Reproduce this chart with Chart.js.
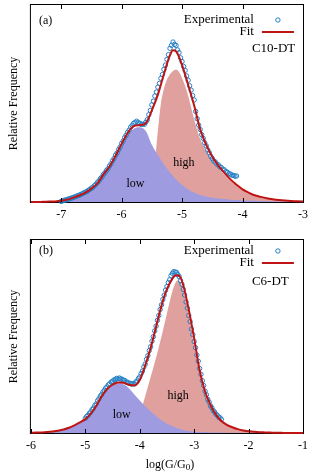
<!DOCTYPE html>
<html>
<head>
<meta charset="utf-8">
<script src="https://cdn.jsdelivr.net/npm/chart.js@4"></script>
<style>
  html, body { margin: 0; padding: 0; background: #fff; }
  .panel { position: absolute; left: 0; width: 314px; }
  #wrapA { top: 0; height: 232px; }
  #wrapB { top: 232px; height: 241px; }
</style>
</head>
<body>
<div class="panel" id="wrapA"><canvas id="chartA"></canvas></div>
<div class="panel" id="wrapB"><canvas id="chartB"></canvas></div>
<script>
// ---------- panel (a): C10-DT ----------
const xTicksA = [-7, -6, -5, -4, -3];
const curveXA = [-7.5, -7.4, -7.3, -7.2, -7.1, -7.0, -6.9, -6.8, -6.7, -6.6, -6.5, -6.4, -6.3, -6.2, -6.1, -6.0,
  -5.9, -5.8, -5.7, -5.6, -5.5, -5.4, -5.3, -5.2, -5.15, -5.1, -5.0, -4.9, -4.8, -4.7, -4.6, -4.5, -4.4, -4.3,
  -4.2, -4.1, -4.0, -3.9, -3.8, -3.7, -3.6, -3.5, -3.4, -3.3, -3.2, -3.1, -3.0];
const fitA = [0, 0, 0.001, 0.002, 0.003, 0.006, 0.012, 0.022, 0.033, 0.047, 0.068, 0.095, 0.14, 0.18, 0.235, 0.295,
  0.35, 0.385, 0.39, 0.40, 0.465, 0.545, 0.65, 0.745, 0.77, 0.765, 0.695, 0.595, 0.49, 0.368, 0.29, 0.23, 0.185, 0.148,
  0.115, 0.088, 0.064, 0.048, 0.034, 0.026, 0.019, 0.014, 0.01, 0.007, 0.005, 0.004, 0.003];
const lowA = [0, 0, 0.001, 0.002, 0.003, 0.006, 0.012, 0.022, 0.033, 0.047, 0.068, 0.095, 0.138, 0.177, 0.23, 0.288,
  0.34, 0.372, 0.38, 0.36, 0.29, 0.238, 0.19, 0.15, 0.132, 0.115, 0.087, 0.064, 0.048, 0.035, 0.028, 0.022, 0.018, 0.015,
  0.012, 0.01, 0.008, 0.007, 0.006, 0.005, 0.004, 0.003, 0.003, 0.002, 0.002, 0.001, 0.001];
const highXA = [-5.43, -5.4, -5.35, -5.3, -5.25, -5.2, -5.15, -5.1, -5.05, -5.0, -4.95, -4.9, -4.85, -4.8, -4.75, -4.7,
  -4.6, -4.5, -4.4, -4.3, -4.2, -4.1, -4.0, -3.9, -3.8, -3.7, -3.6, -3.5, -3.4, -3.3, -3.2, -3.1, -3.0];
const highA = [0.265, 0.36, 0.5, 0.575, 0.62, 0.648, 0.665, 0.672, 0.66, 0.63, 0.59, 0.54, 0.48, 0.42, 0.365, 0.32,
  0.26, 0.21, 0.17, 0.138, 0.108, 0.083, 0.062, 0.046, 0.034, 0.026, 0.019, 0.014, 0.01, 0.007, 0.005, 0.004, 0.003];
const expXA = [
  -7.0, -6.975, -6.95, -6.925, -6.9, -6.875, -6.85, -6.825,
  -6.8, -6.775, -6.75, -6.725, -6.7, -6.675, -6.65, -6.625,
  -6.6, -6.575, -6.55, -6.525, -6.5, -6.475, -6.45, -6.425,
  -6.4, -6.375, -6.35, -6.325, -6.3, -6.275, -6.25, -6.225,
  -6.2, -6.175, -6.15, -6.125, -6.1, -6.075, -6.05, -6.025,
  -6.0, -5.975, -5.95, -5.925, -5.9, -5.875, -5.85, -5.825,
  -5.8, -5.775, -5.75, -5.725, -5.7, -5.675, -5.65, -5.625,
  -5.6, -5.575, -5.55, -5.525, -5.5, -5.475, -5.45, -5.425,
  -5.4, -5.375, -5.35, -5.325, -5.3, -5.275, -5.25, -5.225,
  -5.2, -5.175, -5.15, -5.125, -5.1, -5.075, -5.05, -5.025,
  -5.0, -4.975, -4.95, -4.925, -4.9, -4.875, -4.85, -4.825,
  -4.8, -4.775, -4.75, -4.725, -4.7, -4.675, -4.65, -4.625,
  -4.6, -4.575, -4.55, -4.525, -4.5, -4.475, -4.45, -4.425,
  -4.4, -4.375, -4.35, -4.325, -4.3, -4.275, -4.25, -4.225,
  -4.2, -4.175, -4.15, -4.125, -4.1];
const expA = [
  0.003, 0.006, 0.009, 0.01, 0.013, 0.015, 0.018, 0.02,
  0.023, 0.026, 0.029, 0.032, 0.035, 0.038, 0.042, 0.046,
  0.05, 0.053, 0.059, 0.064, 0.07, 0.075, 0.083, 0.09,
  0.099, 0.107, 0.119, 0.127, 0.14, 0.148, 0.16, 0.169,
  0.183, 0.194, 0.209, 0.221, 0.238, 0.249, 0.266, 0.279,
  0.297, 0.309, 0.327, 0.339, 0.354, 0.365, 0.38, 0.389,
  0.4, 0.404, 0.41, 0.402, 0.4, 0.394, 0.395, 0.394,
  0.405, 0.418, 0.443, 0.465, 0.493, 0.512, 0.538, 0.558,
  0.583, 0.602, 0.628, 0.647, 0.673, 0.695, 0.724, 0.748,
  0.78, 0.795, 0.812, 0.8, 0.795, 0.772, 0.758, 0.732,
  0.713, 0.688, 0.668, 0.64, 0.618, 0.59, 0.568, 0.54,
  0.518, 0.46, 0.423, 0.39, 0.368, 0.342, 0.323, 0.3,
  0.285, 0.264, 0.25, 0.232, 0.221, 0.208, 0.203, 0.192,
  0.188, 0.178, 0.175, 0.166, 0.163, 0.154, 0.151, 0.144,
  0.142, 0.136, 0.135, 0.131, 0.132];

// ---------- panel (b): C6-DT ----------
const xTicksB = [-6, -5, -4, -3, -2, -1];
const curveXB = [-6.0, -5.9, -5.8, -5.7, -5.6, -5.5, -5.4, -5.3, -5.2, -5.1, -5.0, -4.9, -4.8, -4.7, -4.6, -4.5, -4.4,
  -4.3, -4.2, -4.1, -4.0, -3.9, -3.8, -3.7, -3.6, -3.5, -3.4, -3.35, -3.3, -3.25, -3.2, -3.1, -3.0, -2.9, -2.8, -2.7,
  -2.6, -2.5, -2.4, -2.3, -2.2, -2.1, -2.0, -1.9, -1.8, -1.7, -1.6, -1.5, -1.4, -1.3, -1.2, -1.1, -1.0];
const fitB = [0.001, 0.002, 0.003, 0.005, 0.008, 0.012, 0.018, 0.027, 0.04, 0.055, 0.072, 0.1, 0.14, 0.19, 0.228, 0.25, 0.262,
  0.26, 0.25, 0.246, 0.275, 0.35, 0.44, 0.55, 0.66, 0.745, 0.8, 0.815, 0.818, 0.805, 0.765, 0.64, 0.49, 0.325, 0.215, 0.145,
  0.095, 0.062, 0.042, 0.03, 0.02, 0.013, 0.009, 0.006, 0.004, 0.003, 0.002, 0.001, 0.001, 0, 0, 0, 0];
const lowB = [0.001, 0.002, 0.003, 0.005, 0.008, 0.012, 0.018, 0.027, 0.04, 0.055, 0.072, 0.1, 0.14, 0.188, 0.225, 0.246, 0.256,
  0.252, 0.232, 0.2, 0.168, 0.138, 0.112, 0.088, 0.066, 0.048, 0.035, 0.03, 0.025, 0.02, 0.016, 0.01, 0.007, 0.005, 0.004, 0.003,
  0.002, 0.002, 0.001, 0.001, 0.001, 0, 0, 0, 0, 0, 0, 0, 0, 0, 0, 0, 0];
const highXB = [-3.94, -3.9, -3.8, -3.7, -3.6, -3.5, -3.45, -3.4, -3.35, -3.3, -3.25, -3.2, -3.15, -3.1, -3.0, -2.9,
  -2.8, -2.7, -2.6, -2.5, -2.4, -2.3, -2.2, -2.1, -2.0, -1.9, -1.8, -1.7, -1.6, -1.5];
const highB = [0.152, 0.19, 0.29, 0.39, 0.5, 0.62, 0.68, 0.735, 0.775, 0.79, 0.78, 0.74, 0.68, 0.61, 0.45, 0.305,
  0.2, 0.135, 0.09, 0.058, 0.039, 0.028, 0.019, 0.013, 0.009, 0.006, 0.004, 0.003, 0.002, 0.001];
const expXB = [
  -5.0, -4.975, -4.95, -4.925, -4.9, -4.875, -4.85, -4.825,
  -4.8, -4.775, -4.75, -4.725, -4.7, -4.675, -4.65, -4.625,
  -4.6, -4.575, -4.55, -4.525, -4.5, -4.475, -4.45, -4.425,
  -4.4, -4.375, -4.35, -4.325, -4.3, -4.275, -4.25, -4.225,
  -4.2, -4.175, -4.15, -4.125, -4.1, -4.075, -4.05, -4.025,
  -4.0, -3.975, -3.95, -3.925, -3.9, -3.875, -3.85, -3.825,
  -3.8, -3.775, -3.75, -3.725, -3.7, -3.675, -3.65, -3.625,
  -3.6, -3.575, -3.55, -3.525, -3.5, -3.475, -3.45, -3.425,
  -3.4, -3.375, -3.35, -3.325, -3.3, -3.275, -3.25, -3.225,
  -3.2, -3.175, -3.15, -3.125, -3.1, -3.075, -3.05, -3.025,
  -3.0, -2.975, -2.95, -2.925, -2.9, -2.875, -2.85, -2.825,
  -2.8, -2.775, -2.75, -2.725, -2.7, -2.675, -2.65, -2.625,
  -2.6, -2.575, -2.55, -2.525, -2.5];
const expB = [
  0.076, 0.086, 0.091, 0.102, 0.109, 0.122, 0.129, 0.143,
  0.151, 0.167, 0.177, 0.191, 0.199, 0.213, 0.221, 0.233,
  0.239, 0.25, 0.255, 0.264, 0.267, 0.275, 0.276, 0.283,
  0.281, 0.285, 0.279, 0.279, 0.273, 0.272, 0.264, 0.263,
  0.257, 0.258, 0.253, 0.256, 0.255, 0.264, 0.269, 0.282,
  0.291, 0.308, 0.321, 0.342, 0.357, 0.382, 0.401, 0.427,
  0.447, 0.476, 0.499, 0.529, 0.554, 0.584, 0.609, 0.64,
  0.664, 0.692, 0.714, 0.74, 0.759, 0.78, 0.794, 0.815,
  0.827, 0.836, 0.834, 0.832, 0.821, 0.81, 0.789, 0.77,
  0.744, 0.715, 0.679, 0.647, 0.609, 0.577, 0.539, 0.51,
  0.474, 0.442, 0.404, 0.372, 0.334, 0.304, 0.271, 0.246,
  0.217, 0.198, 0.174, 0.16, 0.141, 0.131, 0.116, 0.109,
  0.097, 0.092, 0.082, 0.079, 0.071];

const SERIF = "'Liberation Serif', 'DejaVu Serif', serif";
const FIT_RED = '#c01414';
const EXP_BLUE = '#2580c4';
Chart.defaults.font.family = SERIF;
Chart.defaults.color = '#000';

const pts = (xs, ys) => xs.map((x, i) => ({ x: x, y: ys[i] }));

// gnuplot-like frame, inward ticks, key and labels
const gnuplotLook = {
  id: 'gnuplotLook',
  beforeDatasetsDraw(chart) {
    const { ctx, chartArea: a } = chart;
    ctx.save();
    ctx.strokeStyle = '#000';
    ctx.lineWidth = 1;
    ctx.strokeRect(a.left - 0.5, a.top - 0.5, a.right - a.left + 1, a.bottom - a.top + 1);
    ctx.restore();
  },
  afterDatasetsDraw(chart, args, o) {
    const { ctx, chartArea: a, scales: { x, y } } = chart;
    ctx.save();
    ctx.strokeStyle = '#000';
    ctx.lineWidth = 1;
    ctx.beginPath();
    x.ticks.forEach(t => {
      const px = Math.round(x.getPixelForValue(t.value)) + 0.5;
      ctx.moveTo(px, a.bottom); ctx.lineTo(px, a.bottom - 4);
      ctx.moveTo(px, a.top); ctx.lineTo(px, a.top + 4);
    });
    ctx.stroke();

    ctx.fillStyle = '#000';
    ctx.textBaseline = 'middle';
    ctx.font = '12px ' + SERIF;
    ctx.textAlign = 'left';
    ctx.fillText(o.tag, a.left + 8, a.top + o.tagDy);

    // key
    ctx.font = '13px ' + SERIF;
    ctx.textAlign = 'right';
    ctx.fillText('Experimental', a.left + 223, a.top + o.keyDy);
    ctx.fillText('Fit', a.left + 223, a.top + o.keyDy + 12);
    ctx.strokeStyle = EXP_BLUE;
    ctx.beginPath();
    ctx.arc(a.left + 247, a.top + o.keyDy, 2.2, 0, Math.PI * 2);
    ctx.stroke();
    ctx.strokeStyle = FIT_RED;
    ctx.lineWidth = 2;
    ctx.beginPath();
    ctx.moveTo(a.left + 231, a.top + o.keyDy + 12);
    ctx.lineTo(a.left + 263, a.top + o.keyDy + 12);
    ctx.stroke();

    ctx.textAlign = 'left';
    ctx.fillText(o.sample, a.left + 221, a.top + o.sampleDy);

    ctx.font = '12px ' + SERIF;
    ctx.textAlign = 'center';
    ctx.fillText('low', x.getPixelForValue(o.lowAt[0]), y.getPixelForValue(o.lowAt[1]));
    ctx.fillText('high', x.getPixelForValue(o.highAt[0]), y.getPixelForValue(o.highAt[1]));

    if (o.xTitle) {
      // log(G/G0) with a real subscript
      const cx = (a.left + a.right) / 2 + 3;
      const ty = chart.height - 8;
      ctx.font = '12px ' + SERIF;
      const w1 = ctx.measureText('log(G/G').width;
      ctx.font = '9px ' + SERIF;
      const w2 = ctx.measureText('0').width;
      ctx.font = '12px ' + SERIF;
      const w3 = ctx.measureText(')').width;
      let px = cx - (w1 + w2 + w3) / 2;
      ctx.textAlign = 'left';
      ctx.fillText('log(G/G', px, ty);
      px += w1;
      ctx.font = '9px ' + SERIF;
      ctx.fillText('0', px, ty + 3);
      px += w2;
      ctx.font = '12px ' + SERIF;
      ctx.fillText(')', px, ty);
    }
    ctx.restore();
  }
};

function makePanel(id, p) {
  return new Chart(document.getElementById(id), {
    type: 'line',
    data: {
      datasets: [
        { label: 'Fit', data: pts(p.curveX, p.fit), borderColor: FIT_RED, borderWidth: 2, pointRadius: 0,
          fill: false, cubicInterpolationMode: 'monotone', order: 0, clip: { left: 0, top: 0, right: 0, bottom: 2 } },
        { label: 'Experimental', data: pts(p.expX, p.exp), showLine: false, pointRadius: 2.2, pointBorderWidth: 1,
          pointBorderColor: EXP_BLUE, pointBackgroundColor: 'rgba(0,0,0,0)', order: 1,
          clip: { left: 0, top: 0, right: 0, bottom: 3 } },
        { label: 'low', data: pts(p.curveX, p.low), fill: 'origin', backgroundColor: '#9f9be0',
          borderColor: 'rgba(0,0,0,0)', borderWidth: 0, pointRadius: 0, cubicInterpolationMode: 'monotone', order: 2 },
        { label: 'high', data: pts(p.highX, p.high), fill: 'origin', backgroundColor: '#e0a19e',
          borderColor: 'rgba(0,0,0,0)', borderWidth: 0, pointRadius: 0, cubicInterpolationMode: 'monotone', order: 3 }
      ]
    },
    options: {
      responsive: true,
      maintainAspectRatio: false,
      animation: false,
      events: [],
      layout: { padding: p.padding },
      plugins: {
        legend: { display: false },
        tooltip: { enabled: false },
        gnuplotLook: p.look
      },
      scales: {
        x: {
          type: 'linear', min: p.xMin, max: p.xMax,
          afterBuildTicks: s => { s.ticks = p.xTicks.map(v => ({ value: v })); },
          grid: { display: false, drawTicks: false },
          border: { display: false },
          ticks: { padding: 6, font: { size: 12 }, color: '#000', maxRotation: 0, autoSkip: false }
        },
        y: {
          min: 0, max: 1,
          ticks: { display: false },
          grid: { display: false, drawTicks: false },
          border: { display: false },
          title: { display: true, text: 'Relative Frequency', color: '#000', font: { size: 12 },
                   padding: { top: 4, bottom: 10 } }
        }
      }
    },
    plugins: [gnuplotLook]
  });
}

makePanel('chartA', {
  curveX: curveXA, fit: fitA, low: lowA, highX: highXA, high: highA, expX: expXA, exp: expA,
  xMin: -7.5, xMax: -3, xTicks: xTicksA,
  padding: { left: 2.5, top: 5, right: 7, bottom: 3.6 },
  look: { tag: '(a)', tagDy: 16, keyDy: 15, sample: 'C10-DT', sampleDy: 44,
          lowAt: [-5.77, 0.094], highAt: [-4.97, 0.197], xTitle: false }
});

makePanel('chartB', {
  curveX: curveXB, fit: fitB, low: lowB, highX: highXB, high: highB, expX: expXB, exp: expB,
  xMin: -6, xMax: -1, xTicks: xTicksB,
  padding: { left: 2.5, top: 8, right: 7, bottom: 13.6 },
  look: { tag: '(b)', tagDy: 11, keyDy: 11, sample: 'C6-DT', sampleDy: 42,
          lowAt: [-4.33, 0.095], highAt: [-3.295, 0.19], xTitle: true }
});
</script>
</body>
</html>
